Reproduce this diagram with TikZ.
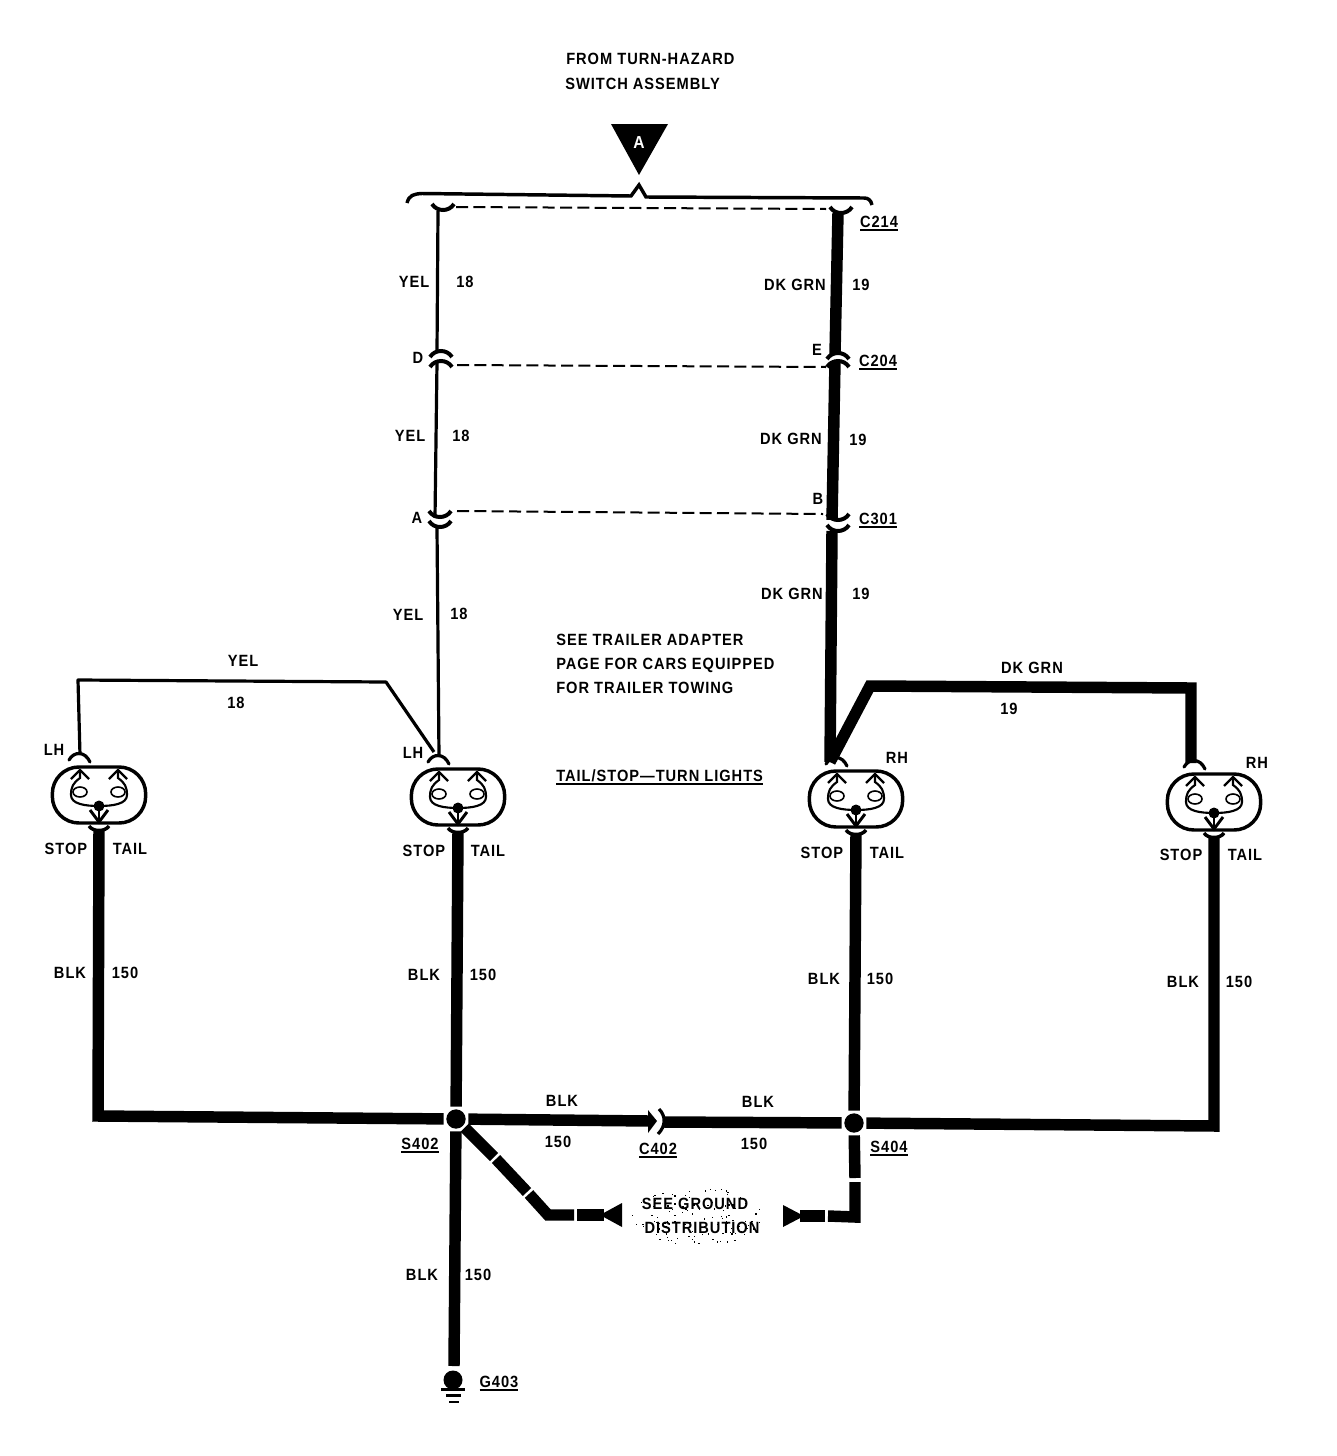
\documentclass[tikz,border=0pt]{standalone}
\usepackage{fontspec}
\setmainfont[FakeStretch=0.9,LetterSpace=6]{Liberation Sans Bold}
\def\ul#1{\vtop{\hbox{#1}\vskip 1.6pt\hrule height 1.5pt}}
\tikzset{
  x=0.75pt,y=-0.75pt,
  lbl/.style={inner sep=0pt,anchor=base,yshift=-4.5pt,font=\fontsize{12.2pt}{14pt}\selectfont},
  lbll/.style={lbl,anchor=base west},
  thin wire/.style={line width=2.4pt,line join=round},
  thick wire/.style={line width=8.6pt,line join=miter},
  fine/.style={line width=2.2pt},
  dashwire/.style={line width=1.5pt,dash pattern=on 9pt off 4pt},
  splice/.style={circle,fill=black,inner sep=0pt,minimum size=14.5pt,outer sep=2pt},
  lamp/.pic={
    \node[draw,line width=2.6pt,minimum width=70pt,minimum height=42pt,rounded corners=20pt,inner sep=0pt] (-oval) at (0,0) {};
    \coordinate (-top) at (-19,-40);
    \coordinate (-bot) at (0,34);
    \draw[line width=2.4pt,line cap=round] (-30,-35) .. controls (-25,-44) and (-14,-44) .. (-9,-33);
    \draw[fine,line width=1.6pt] (-19,-25) -- (-19,-17) .. controls (-26,-12) and (-28,-8) .. (-28,0) .. controls (-28,9) and (-14,11) .. (0,11) .. controls (14,11) and (28,9) .. (28,0) .. controls (28,-8) and (26,-12) .. (19,-17) -- (19,-25);
    \draw[fine,line width=1.7pt] (-28,-16) -- (-19,-25) -- (-10,-16);
    \draw[fine,line width=1.7pt] (10,-16) -- (19,-25) -- (28,-16);
    \draw[fine,line width=1.2pt] (-19,-3) ellipse [x radius=7,y radius=5];
    \draw[fine,line width=1.2pt] (19,-3) ellipse [x radius=7,y radius=5];
    \fill (0,11) circle [radius=5.5];
    \draw[fine] (0,11) -- (0,27);
    \draw[fine] (-9,15) -- (0,27) -- (9,15);
    \draw[line width=2.6pt] (-10,31) .. controls (-6,37) and (6,37) .. (10,31);
  },
  frown/.pic={\draw[line width=3pt] (-11,6) .. controls (-6,-2) and (6,-2) .. (11,6);},
  smile/.pic={\draw[line width=3pt] (-11,-6) .. controls (-6,2) and (6,2) .. (11,-6);},
}
\begin{document}
\begin{tikzpicture}
\useasboundingbox[fill=white] (0,0) rectangle (1336,1456);

% source
\fill (611,124) -- (668,124) -- (639,175) -- cycle;
\node[lbl,text=white,font=\fontsize{13pt}{14pt}\selectfont] (srcA) at (639,142) {A};
\draw[line width=2.6pt] (407,203) .. controls (409,195) and (414,194) .. (422,193.5) -- (631,196) -- (639,185) -- (646,197) -- (864,198) .. controls (868,198) and (871,200) .. (872,205);

% connector points
\coordinate (y0) at (438,211);
\coordinate (y1) at (437,352);
\coordinate (y2) at (437,362);
\coordinate (y3) at (435,518);
\coordinate (y4) at (437,528);
\coordinate (jy) at (434,752);
\coordinate (yb) at (386,682);
\coordinate (yc) at (78,680);
\coordinate (g0) at (838,213);
\coordinate (g1) at (835,354);
\coordinate (g2) at (835,362);
\coordinate (g3) at (832,520);
\coordinate (g4) at (832,531);
\coordinate (jg) at (830,762);
\coordinate (gb) at (870,686);
\coordinate (gc) at (1191,688);
\coordinate (gd) at (1191,763);

% lamps
\pic (lampA) at (99,795) {lamp};
\pic (lampB) at (458,797) {lamp};
\pic (lampC) at (856,799) {lamp};
\pic (lampD) at (1214,802) {lamp};

% connectors
\pic at (443,210) {smile};
\pic at (841,213) {smile};
\pic at (441,351) {frown};
\pic at (441,361) {frown};
\pic at (440,517) {smile};
\pic at (440,527) {smile};
\pic at (838,353) {frown};
\pic at (838,361) {frown};
\pic at (838,520) {smile};
\pic at (838,531) {smile};

% dashed ties
\draw[dashwire] (456,207) -- (826,209);
\draw[dashwire] (457,365) -- (826,367);
\draw[dashwire] (457,511) -- (823,514);

% yellow wires
\draw[thin wire] (y0) -- (y1);
\draw[thin wire] (y2) -- (y3);
\draw[thin wire] (y4) -- (lampB-top);
\draw[thin wire] (jy) -- (yb) -- (yc) -- (lampA-top);

% green wires
\draw[thick wire] (g0) -- (g1);
\draw[thick wire] (g2) -- (g3);
\draw[thick wire] (g4) -- (jg);
\draw[thick wire] (jg) -- (gb) -- (gc) -- (gd);

% splices
\node[splice] (S402) at (456,1119) {};
\node[splice] (S404) at (854,1123) {};
\coordinate (c402a) at (650,1121);
\coordinate (c402b) at (664,1122);
\coordinate (lA) at (98,1116);
\coordinate (lD) at (1214,1126);
\coordinate (gr) at (454,1366);

% black wires
\draw[thick wire] (lampA-bot) -- (lA) -- (S402);
\draw[thick wire] (lampB-bot) -- (S402);
\draw[thick wire] (lampC-bot) -- (S404);
\draw[thick wire] (lampD-bot) -- (lD) -- (S404);
\draw[thick wire] (S402) -- (gr);
\draw[thick wire] (S402) -- (c402a);
\draw[thick wire] (c402b) -- (S404);
\fill (648,1110) -- (657,1121) -- (648,1133) -- cycle;
\draw[line width=2.4pt] (659,1109) .. controls (666,1116) and (666,1126) .. (658,1134);

% ground distribution stubs
\coordinate (d0) at (494,1157);
\coordinate (d1) at (496,1159);
\coordinate (d2) at (527,1192);
\coordinate (d3) at (529,1194);
\coordinate (d4) at (548,1215);
\coordinate (d5) at (574,1215);
\coordinate (d6) at (577,1215);
\coordinate (d7) at (604,1215);
\draw[thick wire] (S402) -- (d0);
\draw[thick wire] (d1) -- (d2);
\draw[thick wire] (d3) -- (d4) -- (d5);
\draw[thick wire] (d6) -- (d7);
\fill (622,1203) -- (622,1227) -- (600,1215) -- cycle;
\coordinate (e0) at (855,1178);
\coordinate (e1) at (855,1182);
\coordinate (e2) at (855,1217);
\coordinate (e3) at (828,1216);
\coordinate (e4) at (825,1216);
\coordinate (e5) at (800,1216);
\draw[thick wire] (S404) -- (e0);
\draw[thick wire] (e1) -- (e2) -- (e3);
\draw[thick wire] (e4) -- (e5);
\fill (783,1205) -- (783,1227) -- (804,1216) -- cycle;

% ground
\fill (453,1380) circle [radius=9.5];
\draw[line width=2.4pt] (441,1389.5) -- (465,1389.5);
\draw[line width=2pt] (446,1395.5) -- (461,1395.5);
\draw[line width=2pt] (449,1402) -- (459,1402);

% speckle
\pgfmathsetseed{7}
\foreach \i in {1,...,110}{
  \pgfmathsetmacro{\ang}{rnd*360}
  \pgfmathsetmacro{\rr}{sqrt(rnd)}
  \pgfmathsetmacro{\sx}{697+66*\rr*cos(\ang)}
  \pgfmathsetmacro{\sy}{1216+29*\rr*sin(\ang)}
  \fill (\sx,\sy) rectangle +(1.3,1.3);
}

% labels
\node[lbll] (t1) at (566,58) {FROM TURN-HAZARD};
\node[lbll] (t2) at (565,83) {SWITCH ASSEMBLY};
\node[lbll] (t3) at (556,639) {SEE TRAILER ADAPTER};
\node[lbll] (t4) at (556,663) {PAGE FOR CARS EQUIPPED};
\node[lbll] (t5) at (556,687) {FOR TRAILER TOWING};
\node[lbll] (t6) at (556,775) {\ul{TAIL/STOP---TURN LIGHTS}};

\node[lbl] (c214) at (879,221) {\ul{C214}};
\node[lbl] (c204) at (878,360) {\ul{C204}};
\node[lbl] (c301) at (878,518) {\ul{C301}};
\node[lbl] (ltE) at (817,349) {E};
\node[lbl] (ltD) at (418,357) {D};
\node[lbl] (ltA) at (417,517) {A};
\node[lbl] (ltB) at (818,498) {B};

\node[lbl] (w1) at (414,281) {YEL};
\node[lbl] (n1) at (465,281) {18};
\node[lbl] (w2) at (410,435) {YEL};
\node[lbl] (n2) at (461,435) {18};
\node[lbl] (w3) at (408,614) {YEL};
\node[lbl] (n3) at (459,613) {18};
\node[lbl] (w4) at (243,660) {YEL};
\node[lbl] (n4) at (236,702) {18};
\node[lbl] (w5) at (795,284) {DK GRN};
\node[lbl] (n5) at (861,284) {19};
\node[lbl] (w6) at (791,438) {DK GRN};
\node[lbl] (n6) at (858,439) {19};
\node[lbl] (w7) at (792,593) {DK GRN};
\node[lbl] (n7) at (861,593) {19};
\node[lbl] (w8) at (1032,667) {DK GRN};
\node[lbl] (n8) at (1009,708) {19};

\node[lbl] (lh1) at (54,749) {LH};
\node[lbl] (lh2) at (413,752) {LH};
\node[lbl] (rh1) at (897,757) {RH};
\node[lbl] (rh2) at (1257,762) {RH};
\node[lbl] (s1) at (66,848) {STOP};
\node[lbl] (ta1) at (130,848) {TAIL};
\node[lbl] (s2) at (424,850) {STOP};
\node[lbl] (ta2) at (488,850) {TAIL};
\node[lbl] (s3) at (822,852) {STOP};
\node[lbl] (ta3) at (887,852) {TAIL};
\node[lbl] (s4) at (1181,854) {STOP};
\node[lbl] (ta4) at (1245,854) {TAIL};

\node[lbl] (b1) at (70,972) {BLK};
\node[lbl] (m1) at (125,972) {150};
\node[lbl] (b2) at (424,974) {BLK};
\node[lbl] (m2) at (483,974) {150};
\node[lbl] (b3) at (824,978) {BLK};
\node[lbl] (m3) at (880,978) {150};
\node[lbl] (b4) at (1183,981) {BLK};
\node[lbl] (m4) at (1239,981) {150};
\node[lbl] (b5) at (562,1100) {BLK};
\node[lbl] (m5) at (558,1141) {150};
\node[lbl] (b6) at (758,1101) {BLK};
\node[lbl] (m6) at (754,1143) {150};
\node[lbl] (b7) at (422,1274) {BLK};
\node[lbl] (m7) at (478,1274) {150};

\node[lbl] (s402) at (420,1143) {\ul{S402}};
\node[lbl] (c402) at (658,1148) {\ul{C402}};
\node[lbl] (s404) at (889,1146) {\ul{S404}};
\node[lbl] (g403) at (499,1381) {\ul{G403}};
\node[lbl] (sg1) at (695,1203) {SEE GROUND};
\node[lbl] (sg2) at (702,1227) {DISTRIBUTION};
\end{tikzpicture}
\end{document}
